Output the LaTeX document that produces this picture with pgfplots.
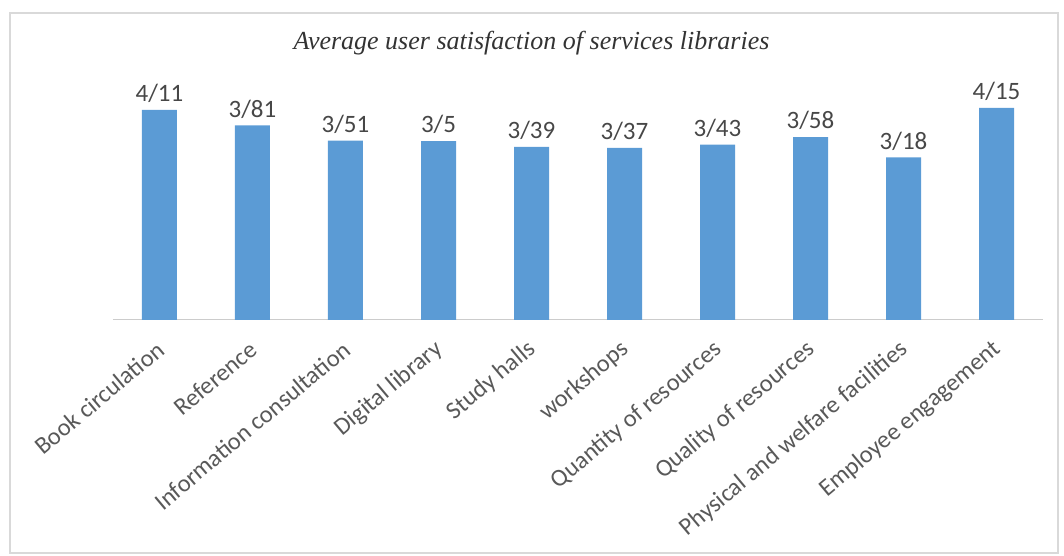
\documentclass[border=0pt]{standalone}
\usepackage{pgfplots}
\pgfplotsset{compat=1.18}
\usepackage{fontspec}
\setmainfont{Carlito}
\newfontfamily\titlefont{Liberation Serif}
\definecolor{barblue}{HTML}{5B9BD5}
\definecolor{txtgray}{HTML}{595959}
\begin{document}
\begin{tikzpicture}
\begin{axis}[
  scale only axis, width=930pt, height=255.5pt,
  xmin=-0.5, xmax=9.5, ymin=0, ymax=5,
  axis y line=none,
  axis x line*=bottom,
  x axis line style={draw=gray!40, line width=1pt},
  xtick={0,...,9},
  xticklabels={Book circulation, Reference, Information consultation, Digital library, Study halls, workshops, Quantity of resources, Quality of resources, Physical and welfare facilities, Employee engagement},
  major tick length=0pt,
  xticklabel style={rotate=40, anchor=east, font=\fontsize{24.5}{26}\selectfont, text=txtgray, inner sep=1pt, xshift=-15pt, yshift=-21pt},
  /pgf/number format/assume math mode=true,
  clip=false,
]
\addplot[ybar, bar width=35pt, fill=barblue, draw=none,
  point meta=y,
  nodes near coords={\pgfmathprintnumber[fixed, precision=2, set decimal separator={/}]{\pgfplotspointmeta}},
  nodes near coords style={font=\fontsize{25}{27}\selectfont, text=black!72, anchor=south, inner sep=2pt, yshift=5pt}]
coordinates {(0,4.11) (1,3.81) (2,3.51) (3,3.5) (4,3.39) (5,3.37) (6,3.43) (7,3.58) (8,3.18) (9,4.15)};
\coordinate (BL) at (axis cs:-1.715,-4.618);
\coordinate (TR) at (axis cs:9.7258,6.262);
\coordinate (FBL) at (axis cs:-1.6075,-4.56);
\coordinate (FTR) at (axis cs:9.661,6.008);
\coordinate (TT) at (axis cs:4.0,5.42);
\end{axis}
\pgfresetboundingbox
\path[use as bounding box] (BL) rectangle (TR);
\draw[gray!30, line width=1.5pt] (FBL) rectangle (FTR);
\node[font=\titlefont\itshape\fontsize{26}{29}\selectfont, text=black!80] at (TT) {Average user satisfaction of services libraries};
\end{tikzpicture}
\end{document}
